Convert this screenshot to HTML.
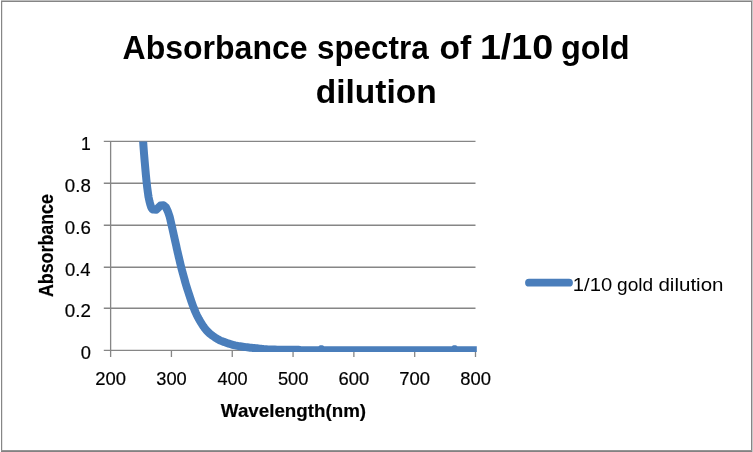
<!DOCTYPE html>
<html lang="en">
<head>
<meta charset="utf-8">
<title>Absorbance spectra of 1/10 gold dilution</title>
<style>
html,body{margin:0;padding:0;background:#fff;}
body{width:753px;height:452px;overflow:hidden;}
svg{display:block;}
text{font-family:"Liberation Sans",sans-serif;fill:#000;white-space:pre;}
.b{font-weight:bold;}
</style>
</head>
<body>
<svg width="753" height="452" viewBox="0 0 753 452">
<rect x="0" y="0" width="753" height="452" fill="#fff"/>
<!-- chart frame -->
<g shape-rendering="crispEdges">
<rect x="1" y="0" width="752" height="1" fill="#bfbfbf"/>
<rect x="1" y="1" width="751" height="1" fill="#858585"/>
<rect x="1" y="1" width="1" height="451" fill="#868686"/>
<rect x="2" y="2" width="1" height="448" fill="#e6e6e6"/>
<rect x="751" y="1" width="1" height="451" fill="#868686"/>
<rect x="752" y="0" width="1" height="452" fill="#c8c8c8"/>
<rect x="1" y="450" width="751" height="1" fill="#949494"/>
<rect x="1" y="451" width="751" height="1" fill="#828282"/>
</g>
<!-- gridlines, axes, ticks -->
<path d="M103.8 141.30H475.50" stroke="#868686" stroke-width="1.3" fill="none"/>
<path d="M103.8 183.25H475.50M103.8 225.25H475.50M103.8 267.25H475.50M103.8 308.25H475.50M103.8 350.30H475.50M110.62 141.80V350.30M110.62 350.30V356.9M171.43 350.30V356.9M232.25 350.30V356.9M293.06 350.30V356.9M353.87 350.30V356.9M414.69 350.30V356.9M475.50 350.30V356.9" stroke="#868686" stroke-width="1.3" fill="none"/>
<!-- data series -->
<clipPath id="pc"><rect x="100" y="141.5" width="376.8" height="210.4"/></clipPath>
<path clip-path="url(#pc)" d="M140.60 100.00 L140.88 104.66 L141.27 111.26 L141.73 119.00 L142.22 127.07 L142.69 134.68 L143.10 141.00 L143.45 146.05 L143.79 150.48 L144.10 154.44 L144.40 158.07 L144.70 161.54 L145.00 165.00 L145.30 168.43 L145.59 171.70 L145.88 174.81 L146.16 177.74 L146.44 180.47 L146.70 183.00 L146.96 185.32 L147.21 187.43 L147.46 189.36 L147.70 191.09 L147.91 192.64 L148.10 194.00 L148.25 195.08 L148.36 195.86 L148.44 196.45 L148.53 196.97 L148.65 197.55 L148.80 198.30 L149.50 201.50 L150.30 204.50 L151.20 207.20 L152.00 208.80 L153.20 209.60 L156.30 209.70 L158.40 207.60 L160.50 205.50 L163.50 205.20 L165.90 207.30 L167.80 211.30 L169.60 216.50 L169.92 217.73 L170.25 219.09 L170.58 220.54 L170.92 222.05 L171.26 223.58 L171.60 225.10 L171.94 226.62 L172.29 228.17 L172.64 229.75 L173.00 231.34 L173.35 232.92 L173.70 234.50 L174.05 236.08 L174.41 237.68 L174.77 239.28 L175.12 240.86 L175.47 242.41 L175.80 243.90 L176.10 245.24 L176.36 246.43 L176.61 247.59 L176.88 248.82 L177.20 250.25 L177.60 252.00 L178.11 254.18 L178.70 256.72 L179.34 259.46 L179.99 262.23 L180.63 264.87 L181.20 267.20 L181.71 269.20 L182.19 270.99 L182.64 272.64 L183.08 274.23 L183.53 275.83 L184.00 277.50 L184.44 279.13 L184.84 280.62 L185.24 282.12 L185.70 283.77 L186.27 285.68 L187.00 288.00 L187.93 290.90 L189.04 294.32 L190.26 298.01 L191.51 301.73 L192.75 305.24 L193.90 308.30 L194.94 310.88 L195.93 313.17 L196.89 315.24 L197.87 317.19 L198.89 319.08 L200.00 321.00 L201.17 322.95 L202.39 324.86 L203.64 326.73 L204.96 328.51 L206.34 330.21 L207.80 331.80 L209.40 333.29 L211.14 334.71 L212.95 336.04 L214.75 337.26 L216.46 338.35 L218.00 339.30 L219.34 340.07 L220.54 340.65 L221.66 341.11 L222.73 341.50 L223.83 341.88 L225.00 342.30 L226.25 342.76 L227.53 343.21 L228.83 343.64 L230.14 344.06 L231.43 344.45 L232.70 344.80 L233.92 345.11 L235.11 345.39 L236.28 345.63 L237.47 345.86 L238.70 346.08 L240.00 346.30 L241.39 346.52 L242.84 346.74 L244.34 346.94 L245.86 347.14 L247.35 347.33 L248.80 347.50 L250.20 347.66 L251.59 347.79 L252.95 347.92 L254.30 348.04 L255.65 348.17 L257.00 348.30 L258.32 348.45 L259.61 348.61 L260.89 348.78 L262.19 348.93 L263.55 349.08 L265.00 349.20 L266.49 349.30 L268.00 349.38 L269.56 349.45 L271.22 349.51 L273.02 349.56 L275.00 349.60 L277.30 349.64 L279.91 349.66 L282.66 349.68 L285.37 349.69 L287.88 349.69 L290.00 349.70 L291.75 349.70 L293.27 349.70 L294.57 349.69 L295.70 349.69 L296.67 349.69 L297.50 349.70 L298.13 349.72 L298.53 349.75 L298.76 349.78 L298.92 349.82 L299.07 349.86 L299.30 349.90 L299.59 349.95 L299.86 350.00 L300.14 350.06 L300.41 350.12 L300.70 350.17 L301.00 350.20 L301.17 350.22 L301.36 350.21 L301.91 350.20 L303.00 350.20 L304.90 350.20 L307.53 350.20 L310.53 350.20 L313.51 350.20 L316.12 350.20 L318.00 350.20 L319.04 350.21 L319.52 350.24 L319.63 350.26 L319.56 350.27 L319.48 350.26 L319.60 350.20 L319.88 350.07 L320.16 349.87 L320.44 349.64 L320.73 349.42 L321.02 349.26 L321.30 349.20 L321.58 349.26 L321.87 349.42 L322.16 349.64 L322.44 349.87 L322.72 350.07 L323.00 350.20 L321.82 350.26 L318.91 350.27 L315.99 350.26 L314.80 350.24 L317.09 350.21 L324.60 350.20 L339.93 350.20 L362.20 350.20 L387.95 350.20 L413.70 350.20 L435.98 350.20 L451.30 350.20 L458.81 350.21 L461.10 350.24 L459.91 350.26 L456.99 350.27 L454.08 350.26 L452.90 350.20 L453.18 350.07 L453.46 349.87 L453.74 349.64 L454.03 349.42 L454.32 349.26 L454.60 349.20 L454.88 349.26 L455.17 349.42 L455.46 349.64 L455.74 349.87 L456.02 350.07 L456.30 350.20 L456.34 350.26 L456.08 350.27 L455.83 350.26 L455.85 350.24 L456.45 350.21 L457.90 350.20 L460.65 350.20 L464.57 350.20 L469.05 350.20 L473.51 350.20 L477.36 350.20 L480.00 350.20" fill="none" stroke="#4a7ebb" stroke-width="8.00" stroke-linejoin="round" stroke-linecap="butt"/>
<!-- legend -->
<line x1="529" y1="282.7" x2="569" y2="282.7" stroke="#4a7ebb" stroke-width="7.80" stroke-linecap="round"/>
<!-- chart title -->
<text y="59.00" font-size="34.00" class="b"><tspan x="122.50" textLength="185.09" lengthAdjust="spacingAndGlyphs">Absorbance</tspan> <tspan x="317.00" textLength="111.60" lengthAdjust="spacingAndGlyphs">spectra</tspan> <tspan x="439.49" textLength="31.75" lengthAdjust="spacingAndGlyphs">of</tspan> <tspan x="479.93" font-size="35.30" textLength="73.32" lengthAdjust="spacingAndGlyphs">1/10</tspan> <tspan x="560.97" textLength="68.57" lengthAdjust="spacingAndGlyphs">gold</tspan></text>
<text y="102.80" font-size="34.00" class="b"><tspan x="315.73" textLength="120.95" lengthAdjust="spacingAndGlyphs">dilution</tspan></text>
<!-- value axis labels -->
<text y="149.65" font-size="19.00" stroke="#000" stroke-width="0.20" stroke-linejoin="round"><tspan x="80.96" textLength="9.80" lengthAdjust="spacingAndGlyphs">1</tspan></text>
<text y="191.61" font-size="19.00" stroke="#000" stroke-width="0.20" stroke-linejoin="round"><tspan x="64.87" textLength="25.94" lengthAdjust="spacingAndGlyphs">0.8</tspan></text>
<text y="233.57" font-size="19.00" stroke="#000" stroke-width="0.20" stroke-linejoin="round"><tspan x="64.87" textLength="25.95" lengthAdjust="spacingAndGlyphs">0.6</tspan></text>
<text y="275.53" font-size="19.00" stroke="#000" stroke-width="0.20" stroke-linejoin="round"><tspan x="64.88" textLength="25.66" lengthAdjust="spacingAndGlyphs">0.4</tspan></text>
<text y="317.49" font-size="19.00" stroke="#000" stroke-width="0.20" stroke-linejoin="round"><tspan x="64.87" textLength="26.08" lengthAdjust="spacingAndGlyphs">0.2</tspan></text>
<text y="359.45" font-size="19.00" stroke="#000" stroke-width="0.20" stroke-linejoin="round"><tspan x="80.78" textLength="10.18" lengthAdjust="spacingAndGlyphs">0</tspan></text>
<!-- category axis labels -->
<text y="385.30" font-size="19.00" stroke="#000" stroke-width="0.20" stroke-linejoin="round"><tspan x="95.24" textLength="30.75" lengthAdjust="spacingAndGlyphs">200</tspan></text>
<text y="385.30" font-size="19.00" stroke="#000" stroke-width="0.20" stroke-linejoin="round"><tspan x="156.29" textLength="30.51" lengthAdjust="spacingAndGlyphs">300</tspan></text>
<text y="385.30" font-size="19.00" stroke="#000" stroke-width="0.20" stroke-linejoin="round"><tspan x="217.38" textLength="30.22" lengthAdjust="spacingAndGlyphs">400</tspan></text>
<text y="385.30" font-size="19.00" stroke="#000" stroke-width="0.20" stroke-linejoin="round"><tspan x="277.88" textLength="30.55" lengthAdjust="spacingAndGlyphs">500</tspan></text>
<text y="385.30" font-size="19.00" stroke="#000" stroke-width="0.20" stroke-linejoin="round"><tspan x="338.49" textLength="30.76" lengthAdjust="spacingAndGlyphs">600</tspan></text>
<text y="385.30" font-size="19.00" stroke="#000" stroke-width="0.20" stroke-linejoin="round"><tspan x="399.29" textLength="30.77" lengthAdjust="spacingAndGlyphs">700</tspan></text>
<text y="385.30" font-size="19.00" stroke="#000" stroke-width="0.20" stroke-linejoin="round"><tspan x="460.25" textLength="30.61" lengthAdjust="spacingAndGlyphs">800</tspan></text>
<!-- axis titles -->
<text y="417.30" font-size="18.60" class="b" stroke="#000" stroke-width="0.20" stroke-linejoin="round"><tspan x="220.88" textLength="145.25" lengthAdjust="spacingAndGlyphs">Wavelength(nm)</tspan></text>
<text y="0.00" font-size="19.90" class="b" transform="translate(52.85 296.75) rotate(-90)" stroke="#000" stroke-width="0.20" stroke-linejoin="round"><tspan x="-0.34" textLength="102.95" lengthAdjust="spacingAndGlyphs">Absorbance</tspan></text>
<!-- legend label -->
<text y="291.10" font-size="19.00"><tspan x="572.86" textLength="39.33" lengthAdjust="spacingAndGlyphs">1/10</tspan> <tspan x="617.10" textLength="36.13" lengthAdjust="spacingAndGlyphs">gold</tspan> <tspan x="658.44" textLength="65.10" lengthAdjust="spacingAndGlyphs">dilution</tspan></text>
</svg>
</body>
</html>
